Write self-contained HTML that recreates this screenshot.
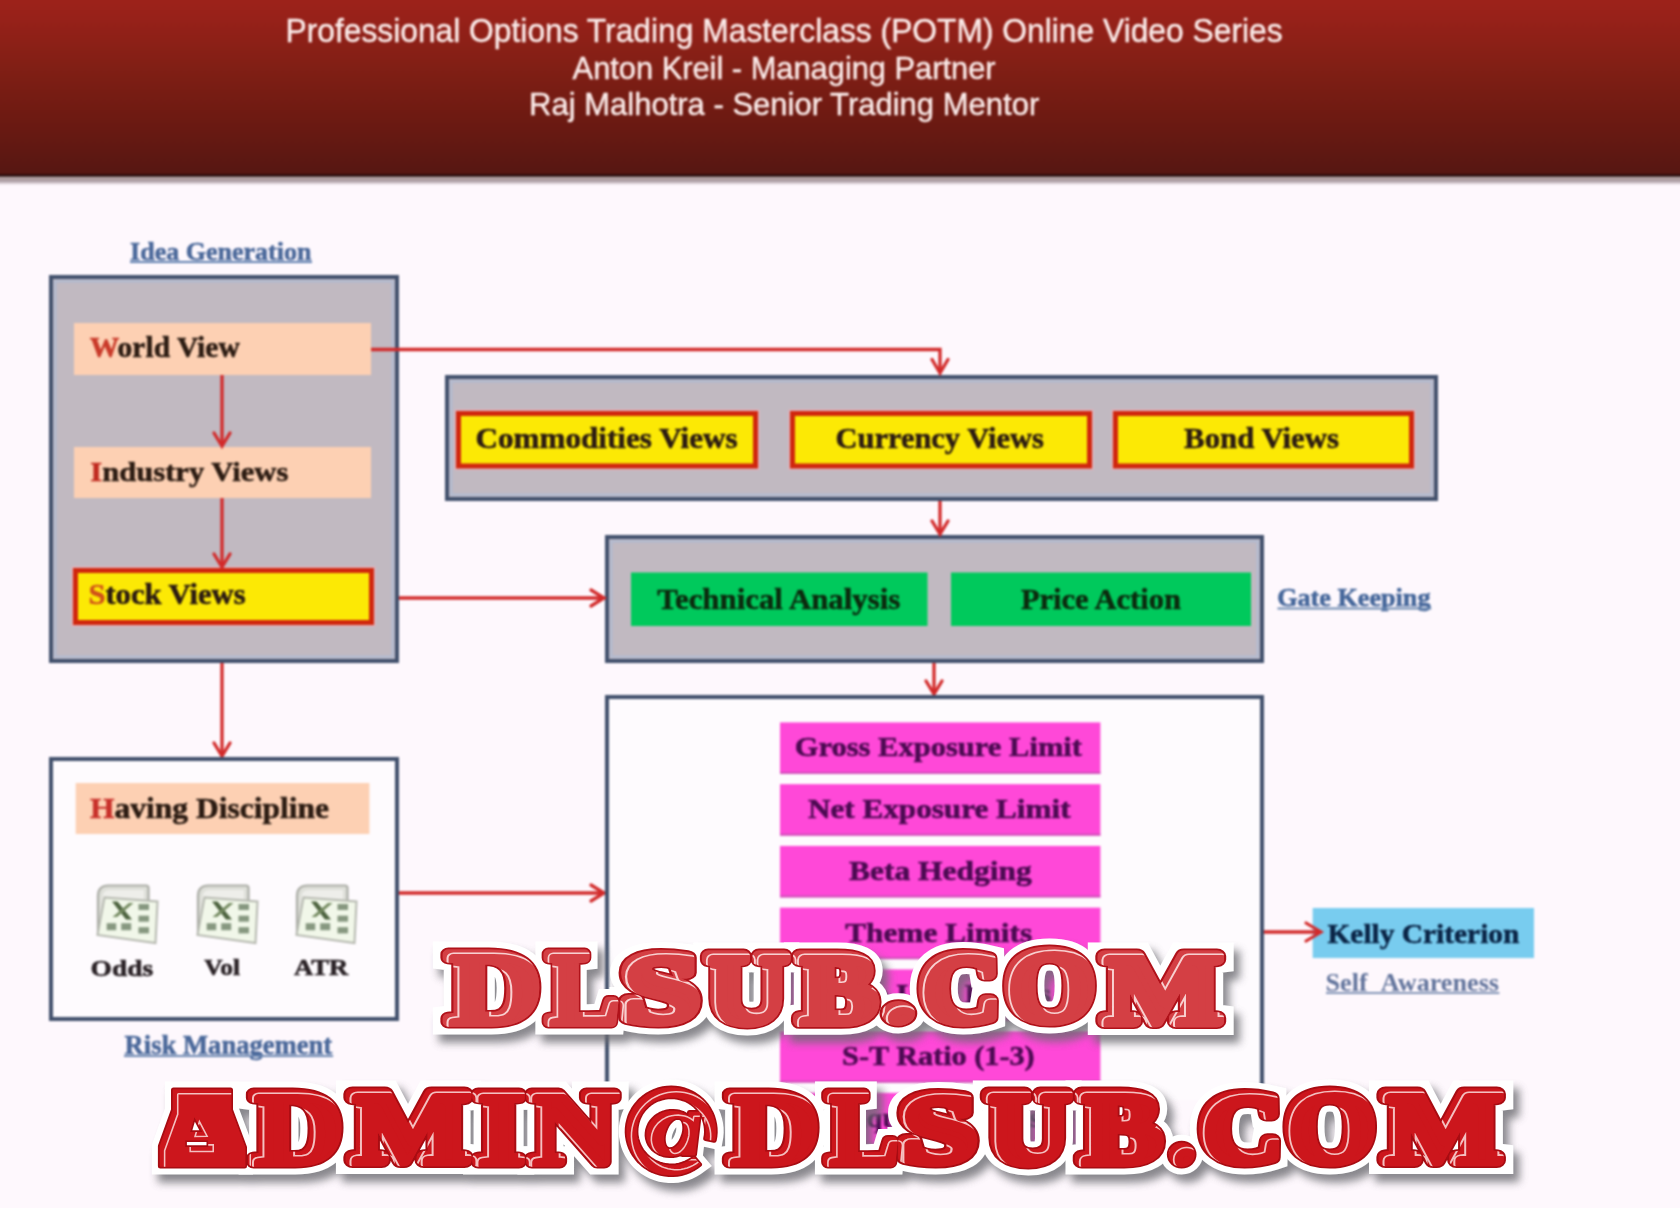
<!DOCTYPE html>
<html><head><meta charset="utf-8"><style>
html,body{margin:0;padding:0;background:#fef8fd;width:1680px;height:1208px;overflow:hidden}
svg{display:block}
</style></head><body>
<svg width="1680" height="1208" viewBox="0 0 1680 1208">
<g style="filter:blur(0.8px)">
<defs>
<linearGradient id="hdr" x1="0" y1="0" x2="0" y2="1">
 <stop offset="0" stop-color="#a3241c"/>
 <stop offset="0.2" stop-color="#972119"/>
 <stop offset="0.45" stop-color="#811f15"/>
 <stop offset="0.7" stop-color="#6e1a12"/>
 <stop offset="1" stop-color="#561712"/>
</linearGradient>
<linearGradient id="hsh" x1="0" y1="0" x2="0" y2="1">
 <stop offset="0" stop-color="#b8a4a4"/>
 <stop offset="0.5" stop-color="#a99aa0"/>
 <stop offset="1" stop-color="#fef8fd"/>
</linearGradient>
<filter id="blur1" x="-5%" y="-20%" width="110%" height="140%"><feGaussianBlur stdDeviation="0.6"/></filter>
<filter id="wsh" x="-5%" y="-30%" width="110%" height="160%"><feGaussianBlur stdDeviation="4"/></filter>
</defs>
<rect x="-20.00" y="-20.00" width="1720.00" height="1248.00" fill="#fef8fd" />
<rect x="-20.00" y="-20.00" width="1720.00" height="195.00" fill="url(#hdr)" />
<rect x="-20.00" y="174.50" width="1720.00" height="2.30" fill="#1a0404" />
<rect x="-20.00" y="176.80" width="1720.00" height="8.20" fill="url(#hsh)" />
<text x="285.46" y="42.00" font-family="Liberation Sans" font-weight="normal" font-size="33.43" textLength="997.13" lengthAdjust="spacingAndGlyphs" fill="#fcecea" stroke="#fcecea" stroke-width="0.45">Professional Options Trading Masterclass (POTM) Online Video Series</text>
<text x="572.60" y="78.70" font-family="Liberation Sans" font-weight="normal" font-size="31.98" textLength="423.02" lengthAdjust="spacingAndGlyphs" fill="#fcecea" stroke="#fcecea" stroke-width="0.45">Anton Kreil - Managing Partner</text>
<text x="529.02" y="115.00" font-family="Liberation Sans" font-weight="normal" font-size="31.98" textLength="510.22" lengthAdjust="spacingAndGlyphs" fill="#fcecea" stroke="#fcecea" stroke-width="0.45">Raj Malhotra - Senior Trading Mentor</text>
<text x="130.09" y="259.70" font-family="Liberation Serif" font-weight="bold" font-size="25.95" textLength="181.34" lengthAdjust="spacingAndGlyphs" fill="#4a689a"  stroke="#4a689a" stroke-width="0.55">Idea Generation</text>
<rect x="130.00" y="261.00" width="182.00" height="2.00" fill="#6080b0" />
<rect x="51.00" y="277.00" width="346.00" height="384.00" fill="#c1b9c1" stroke="#41506c" stroke-width="4" />
<rect x="55.25" y="281.25" width="337.50" height="375.50" fill="none" stroke="#b2bad0" stroke-width="2.5" />
<rect x="74.00" y="323.00" width="297.00" height="52.00" fill="#fdd0b3" />
<text x="89.66" y="357.10" font-family="Liberation Serif" font-weight="bold" font-size="29.16" textLength="150.09" lengthAdjust="spacingAndGlyphs" fill="#2b1b12"  stroke="#2b1b12" stroke-width="0.55"><tspan fill="#c93a2a" stroke="#c93a2a">W</tspan>orld View</text>
<rect x="74.00" y="447.00" width="297.00" height="51.00" fill="#fdd0b3" />
<text x="90.33" y="481.00" font-family="Liberation Serif" font-weight="bold" font-size="28.24" textLength="197.99" lengthAdjust="spacingAndGlyphs" fill="#2b1b12"  stroke="#2b1b12" stroke-width="0.55"><tspan fill="#c02a20" stroke="#c02a20">I</tspan>ndustry Views</text>
<rect x="72.30" y="567.30" width="302.40" height="58.40" fill="none" stroke="#e2b2bc" stroke-width="1.6" />
<rect x="75.50" y="570.50" width="296.00" height="52.00" fill="#fce905" stroke="#d0260e" stroke-width="5" />
<text x="88.42" y="604.10" font-family="Liberation Serif" font-weight="bold" font-size="29.16" textLength="157.12" lengthAdjust="spacingAndGlyphs" fill="#2b1b12"  stroke="#2b1b12" stroke-width="0.55"><tspan fill="#d0501a" stroke="#d0501a">S</tspan>tock Views</text>
<path d="M222 375 V446" stroke="#d22a2a" stroke-width="3.3" fill="none"/>
<path d="M214 433 L222 446 L230 433" stroke="#d22a2a" stroke-width="3.3" fill="none" stroke-linecap="round" stroke-linejoin="miter"/>
<path d="M222 498 V567" stroke="#d22a2a" stroke-width="3.3" fill="none"/>
<path d="M214 554 L222 567 L230 554" stroke="#d22a2a" stroke-width="3.3" fill="none" stroke-linecap="round" stroke-linejoin="miter"/>
<rect x="447.00" y="377.00" width="989.00" height="122.00" fill="#c1b9c1" stroke="#41506c" stroke-width="4" />
<rect x="451.25" y="381.25" width="980.50" height="113.50" fill="none" stroke="#b2bad0" stroke-width="2.5" />
<rect x="455.30" y="410.30" width="303.40" height="58.90" fill="none" stroke="#e2b2bc" stroke-width="1.6" />
<rect x="458.50" y="413.50" width="297.00" height="52.50" fill="#fce905" stroke="#d0260e" stroke-width="5" />
<text x="475.44" y="448.00" font-family="Liberation Serif" font-weight="bold" font-size="29.62" textLength="262.17" lengthAdjust="spacingAndGlyphs" fill="#2b1b12"  stroke="#2b1b12" stroke-width="0.55">Commodities Views</text>
<rect x="789.30" y="410.30" width="303.40" height="58.90" fill="none" stroke="#e2b2bc" stroke-width="1.6" />
<rect x="792.50" y="413.50" width="297.00" height="52.50" fill="#fce905" stroke="#d0260e" stroke-width="5" />
<text x="835.48" y="448.00" font-family="Liberation Serif" font-weight="bold" font-size="29.62" textLength="208.39" lengthAdjust="spacingAndGlyphs" fill="#2b1b12"  stroke="#2b1b12" stroke-width="0.55">Currency Views</text>
<rect x="1112.30" y="410.30" width="302.40" height="58.90" fill="none" stroke="#e2b2bc" stroke-width="1.6" />
<rect x="1115.50" y="413.50" width="296.00" height="52.50" fill="#fce905" stroke="#d0260e" stroke-width="5" />
<text x="1184.14" y="448.00" font-family="Liberation Serif" font-weight="bold" font-size="29.62" textLength="154.81" lengthAdjust="spacingAndGlyphs" fill="#2b1b12"  stroke="#2b1b12" stroke-width="0.55">Bond Views</text>
<rect x="607.00" y="537.00" width="655.00" height="124.00" fill="#c1b9c1" stroke="#41506c" stroke-width="4" />
<rect x="611.25" y="541.25" width="646.50" height="115.50" fill="none" stroke="#b2bad0" stroke-width="2.5" />
<rect x="631.00" y="572.50" width="296.50" height="53.50" fill="#00c95c" />
<rect x="951.00" y="572.50" width="300.00" height="53.50" fill="#00c95c" />
<text x="657.24" y="608.90" font-family="Liberation Serif" font-weight="bold" font-size="29.62" textLength="243.03" lengthAdjust="spacingAndGlyphs" fill="#0b2a0e"  stroke="#0b2a0e" stroke-width="0.55">Technical Analysis</text>
<text x="1020.94" y="609.00" font-family="Liberation Serif" font-weight="bold" font-size="29.01" textLength="160.01" lengthAdjust="spacingAndGlyphs" fill="#0b2a0e"  stroke="#0b2a0e" stroke-width="0.55">Price Action</text>
<text x="1277.19" y="605.70" font-family="Liberation Serif" font-weight="bold" font-size="24.58" textLength="153.28" lengthAdjust="spacingAndGlyphs" fill="#44669a"  stroke="#44669a" stroke-width="0.55">Gate Keeping</text>
<rect x="1277.50" y="607.50" width="153.70" height="2.00" fill="#6a88b0" />
<path d="M371 349.5 H940 V373" stroke="#d22a2a" stroke-width="3.3" fill="none"/>
<path d="M932 359.5 L940 373 L948 359.5" stroke="#d22a2a" stroke-width="3.3" fill="none" stroke-linecap="round"/>
<path d="M399 598 H604" stroke="#d22a2a" stroke-width="3.3" fill="none"/>
<path d="M591 590 L604 598 L591 606" stroke="#d22a2a" stroke-width="3.3" fill="none" stroke-linecap="round"/>
<path d="M940 501 V534" stroke="#d22a2a" stroke-width="3.3" fill="none"/>
<path d="M932 521 L940 534 L948 521" stroke="#d22a2a" stroke-width="3.3" fill="none" stroke-linecap="round" stroke-linejoin="miter"/>
<path d="M934 663 V694" stroke="#d22a2a" stroke-width="3.3" fill="none"/>
<path d="M926 681 L934 694 L942 681" stroke="#d22a2a" stroke-width="3.3" fill="none" stroke-linecap="round" stroke-linejoin="miter"/>
<path d="M222 663 V756" stroke="#d22a2a" stroke-width="3.3" fill="none"/>
<path d="M214 743 L222 756 L230 743" stroke="#d22a2a" stroke-width="3.3" fill="none" stroke-linecap="round" stroke-linejoin="miter"/>
<path d="M399 893 H604" stroke="#d22a2a" stroke-width="3.3" fill="none"/>
<path d="M591 885 L604 893 L591 901" stroke="#d22a2a" stroke-width="3.3" fill="none" stroke-linecap="round"/>
<rect x="51.00" y="759.00" width="346.00" height="260.00" fill="#fefbfe" stroke="#41506c" stroke-width="4" />
<rect x="75.70" y="783.00" width="293.70" height="51.00" fill="#fdd0b3" />
<text x="90.03" y="818.10" font-family="Liberation Serif" font-weight="bold" font-size="28.40" textLength="238.94" lengthAdjust="spacingAndGlyphs" fill="#2b1b12"  stroke="#2b1b12" stroke-width="0.55"><tspan fill="#c8302a" stroke="#c8302a">H</tspan>aving Discipline</text>
<g transform="translate(96,884)"><path d="M2 50 L2 12 Q2 1.5 12.5 1.5 L50 1.5 Q52.5 1.5 52.5 4 L52.5 46 Z" fill="#dedfd9" stroke="#abada6" stroke-width="2.2"/><path d="M6.5 48 L6.5 13 Q6.5 6 13.5 6 L48 6 L48 44 Z" fill="#eeeeea"/><path d="M8.5 13.5 L61.5 17.5 L59.5 59 L1.5 51 Z" fill="#f1f7e9" stroke="#b6b9b0" stroke-width="2"/><path d="M16 17.5 L21.5 17.5 L36 35.5 L30 35.5 Z" fill="#4d633f"/><path d="M33 19 L37.5 19 L21 33 L16.5 33 Z" fill="#73895f"/><rect x="42.5" y="20" width="10.5" height="6" fill="#879880"/><rect x="42.5" y="31.7" width="10.5" height="6" fill="#879880"/><rect x="42.5" y="43.2" width="10.5" height="6.2" fill="#879880"/><rect x="10.7" y="39.2" width="9.5" height="7" fill="#879880"/><rect x="25.2" y="39.2" width="10" height="7" fill="#879880"/></g>
<g transform="translate(196,884)"><path d="M2 50 L2 12 Q2 1.5 12.5 1.5 L50 1.5 Q52.5 1.5 52.5 4 L52.5 46 Z" fill="#dedfd9" stroke="#abada6" stroke-width="2.2"/><path d="M6.5 48 L6.5 13 Q6.5 6 13.5 6 L48 6 L48 44 Z" fill="#eeeeea"/><path d="M8.5 13.5 L61.5 17.5 L59.5 59 L1.5 51 Z" fill="#f1f7e9" stroke="#b6b9b0" stroke-width="2"/><path d="M16 17.5 L21.5 17.5 L36 35.5 L30 35.5 Z" fill="#4d633f"/><path d="M33 19 L37.5 19 L21 33 L16.5 33 Z" fill="#73895f"/><rect x="42.5" y="20" width="10.5" height="6" fill="#879880"/><rect x="42.5" y="31.7" width="10.5" height="6" fill="#879880"/><rect x="42.5" y="43.2" width="10.5" height="6.2" fill="#879880"/><rect x="10.7" y="39.2" width="9.5" height="7" fill="#879880"/><rect x="25.2" y="39.2" width="10" height="7" fill="#879880"/></g>
<g transform="translate(295,884)"><path d="M2 50 L2 12 Q2 1.5 12.5 1.5 L50 1.5 Q52.5 1.5 52.5 4 L52.5 46 Z" fill="#dedfd9" stroke="#abada6" stroke-width="2.2"/><path d="M6.5 48 L6.5 13 Q6.5 6 13.5 6 L48 6 L48 44 Z" fill="#eeeeea"/><path d="M8.5 13.5 L61.5 17.5 L59.5 59 L1.5 51 Z" fill="#f1f7e9" stroke="#b6b9b0" stroke-width="2"/><path d="M16 17.5 L21.5 17.5 L36 35.5 L30 35.5 Z" fill="#4d633f"/><path d="M33 19 L37.5 19 L21 33 L16.5 33 Z" fill="#73895f"/><rect x="42.5" y="20" width="10.5" height="6" fill="#879880"/><rect x="42.5" y="31.7" width="10.5" height="6" fill="#879880"/><rect x="42.5" y="43.2" width="10.5" height="6.2" fill="#879880"/><rect x="10.7" y="39.2" width="9.5" height="7" fill="#879880"/><rect x="25.2" y="39.2" width="10" height="7" fill="#879880"/></g>
<text x="90.53" y="975.80" font-family="Liberation Serif" font-weight="bold" font-size="24.12" textLength="62.64" lengthAdjust="spacingAndGlyphs" fill="#2a2226"  stroke="#2a2226" stroke-width="0.55">Odds</text>
<text x="204.15" y="975.40" font-family="Liberation Serif" font-weight="bold" font-size="22.75" textLength="35.82" lengthAdjust="spacingAndGlyphs" fill="#2a2226"  stroke="#2a2226" stroke-width="0.55">Vol</text>
<text x="294.03" y="975.40" font-family="Liberation Serif" font-weight="bold" font-size="22.75" textLength="54.26" lengthAdjust="spacingAndGlyphs" fill="#2a2226"  stroke="#2a2226" stroke-width="0.55">ATR</text>
<text x="124.60" y="1053.60" font-family="Liberation Serif" font-weight="bold" font-size="27.33" textLength="207.64" lengthAdjust="spacingAndGlyphs" fill="#4a689a"  stroke="#4a689a" stroke-width="0.55">Risk Management</text>
<rect x="124.00" y="1055.00" width="209.10" height="2.00" fill="#6a86b0" />
<rect x="605.00" y="695.00" width="659.00" height="405.00" fill="#fefbfe" />
<path d="M607 1100 V697 H1262 V1100" fill="none" stroke="#41506c" stroke-width="4"/>
<rect x="780.00" y="722.40" width="320.40" height="51.50" fill="#ff48d8" />
<rect x="780.00" y="771.90" width="320.40" height="2.00" fill="#d050b8" />
<text x="794.67" y="756.40" font-family="Liberation Serif" font-weight="bold" font-size="27.48" textLength="287.34" lengthAdjust="spacingAndGlyphs" fill="#4c0a52"  stroke="#4c0a52" stroke-width="0.55">Gross Exposure Limit</text>
<rect x="780.00" y="784.15" width="320.40" height="51.50" fill="#ff48d8" />
<rect x="780.00" y="833.65" width="320.40" height="2.00" fill="#d050b8" />
<text x="807.98" y="818.15" font-family="Liberation Serif" font-weight="bold" font-size="27.48" textLength="262.55" lengthAdjust="spacingAndGlyphs" fill="#4c0a52"  stroke="#4c0a52" stroke-width="0.55">Net Exposure Limit</text>
<rect x="780.00" y="845.90" width="320.40" height="51.50" fill="#ff48d8" />
<rect x="780.00" y="895.40" width="320.40" height="2.00" fill="#d050b8" />
<text x="849.03" y="879.90" font-family="Liberation Serif" font-weight="bold" font-size="27.48" textLength="182.71" lengthAdjust="spacingAndGlyphs" fill="#4c0a52"  stroke="#4c0a52" stroke-width="0.55">Beta Hedging</text>
<rect x="780.00" y="907.65" width="320.40" height="51.50" fill="#ff48d8" />
<rect x="780.00" y="957.15" width="320.40" height="2.00" fill="#d050b8" />
<text x="845.23" y="941.65" font-family="Liberation Serif" font-weight="bold" font-size="27.48" textLength="186.85" lengthAdjust="spacingAndGlyphs" fill="#4c0a52"  stroke="#4c0a52" stroke-width="0.55">Theme Limits</text>
<rect x="780.00" y="969.40" width="320.40" height="51.50" fill="#ff48d8" />
<rect x="780.00" y="1018.90" width="320.40" height="2.00" fill="#d050b8" />
<text x="828.29" y="1003.40" font-family="Liberation Serif" font-weight="bold" font-size="27.48" textLength="222.44" lengthAdjust="spacingAndGlyphs" fill="#4c0a52"  stroke="#4c0a52" stroke-width="0.55">Stop Loss Limits</text>
<rect x="780.00" y="1031.15" width="320.40" height="51.50" fill="#ff48d8" />
<rect x="780.00" y="1080.65" width="320.40" height="2.00" fill="#d050b8" />
<text x="842.14" y="1065.15" font-family="Liberation Serif" font-weight="bold" font-size="27.48" textLength="192.53" lengthAdjust="spacingAndGlyphs" fill="#4c0a52"  stroke="#4c0a52" stroke-width="0.55">S-T Ratio (1-3)</text>
<rect x="780.00" y="1092.90" width="320.40" height="51.50" fill="#ff48d8" />
<rect x="780.00" y="1142.40" width="320.40" height="2.00" fill="#d050b8" />
<text x="839.57" y="1126.90" font-family="Liberation Serif" font-weight="bold" font-size="27.48" textLength="201.14" lengthAdjust="spacingAndGlyphs" fill="#4c0a52"  stroke="#4c0a52" stroke-width="0.55">Liquidity Limits</text>
<rect x="1312.70" y="908.00" width="221.30" height="50.00" fill="#78ccef" />
<path d="M1264 932 H1320" stroke="#d22a2a" stroke-width="3.3" fill="none"/>
<path d="M1306 923 L1321 932 L1306 941" stroke="#d22a2a" stroke-width="3.2" fill="none" stroke-linecap="round"/>
<text x="1327.46" y="942.70" font-family="Liberation Serif" font-weight="bold" font-size="27.33" textLength="191.91" lengthAdjust="spacingAndGlyphs" fill="#0a2446"  stroke="#0a2446" stroke-width="0.55">Kelly Criterion</text>
<text x="1325.56" y="990.90" font-family="Liberation Serif" font-weight="bold" font-size="24.58" textLength="173.46" lengthAdjust="spacingAndGlyphs" fill="#62749c" stroke="none">Self  Awareness</text>
<rect x="1326.00" y="992.00" width="173.40" height="2.00" fill="#8294b6" />
</g>
<g style="filter:blur(0.35px)">
<mask id="m1" maskUnits="userSpaceOnUse" x="0" y="0" width="1680" height="1208"><g font-family="Liberation Serif" font-weight="bold" stroke-linejoin="round" fill="#fff" stroke="#fff" stroke-width="9.5"><text x="446.26" y="1021.80" font-size="103.51" textLength="93.34" lengthAdjust="spacingAndGlyphs">D</text><text x="546.59" y="1021.80" font-size="103.51" textLength="71.41" lengthAdjust="spacingAndGlyphs">L</text><text x="882.67" y="1020.41" font-size="92.50" textLength="31.25" lengthAdjust="spacingAndGlyphs">.</text></g><g font-family="Liberation Serif" font-weight="bold" stroke-linejoin="round" fill="#fff" stroke="#fff" stroke-width="11.5"><text x="621.30" y="1019.82" font-size="98.21" textLength="76.90" lengthAdjust="spacingAndGlyphs">S</text><text x="705.58" y="1020.80" font-size="100.46" textLength="81.42" lengthAdjust="spacingAndGlyphs">U</text><text x="797.74" y="1020.80" font-size="100.46" textLength="78.34" lengthAdjust="spacingAndGlyphs">B</text><text x="919.50" y="1019.82" font-size="98.21" textLength="79.38" lengthAdjust="spacingAndGlyphs">C</text><text x="1004.98" y="1019.78" font-size="101.64" textLength="88.99" lengthAdjust="spacingAndGlyphs">O</text><text x="1102.62" y="1020.80" font-size="100.46" textLength="117.98" lengthAdjust="spacingAndGlyphs">M</text></g></mask>
<g filter="url(#wsh)" opacity="0.8"><g transform="translate(6,8)"><g font-family="Liberation Serif" font-weight="bold" stroke-linejoin="miter" stroke-miterlimit="2.2" fill="#6a6a70" stroke="#6a6a70" stroke-width="25"><text x="446.26" y="1021.80" font-size="103.51" textLength="93.34" lengthAdjust="spacingAndGlyphs">D</text><text x="546.59" y="1021.80" font-size="103.51" textLength="71.41" lengthAdjust="spacingAndGlyphs">L</text><text x="882.67" y="1020.41" font-size="92.50" textLength="31.25" lengthAdjust="spacingAndGlyphs">.</text></g><g font-family="Liberation Serif" font-weight="bold" stroke-linejoin="miter" stroke-miterlimit="2.2" fill="#6a6a70" stroke="#6a6a70" stroke-width="27"><text x="621.30" y="1019.82" font-size="98.21" textLength="76.90" lengthAdjust="spacingAndGlyphs">S</text><text x="705.58" y="1020.80" font-size="100.46" textLength="81.42" lengthAdjust="spacingAndGlyphs">U</text><text x="797.74" y="1020.80" font-size="100.46" textLength="78.34" lengthAdjust="spacingAndGlyphs">B</text><text x="919.50" y="1019.82" font-size="98.21" textLength="79.38" lengthAdjust="spacingAndGlyphs">C</text><text x="1004.98" y="1019.78" font-size="101.64" textLength="88.99" lengthAdjust="spacingAndGlyphs">O</text><text x="1102.62" y="1020.80" font-size="100.46" textLength="117.98" lengthAdjust="spacingAndGlyphs">M</text></g></g></g>
<g font-family="Liberation Serif" font-weight="bold" stroke-linejoin="miter" stroke-miterlimit="2.2" fill="#fff" stroke="#fff" stroke-width="25"><text x="446.26" y="1021.80" font-size="103.51" textLength="93.34" lengthAdjust="spacingAndGlyphs">D</text><text x="546.59" y="1021.80" font-size="103.51" textLength="71.41" lengthAdjust="spacingAndGlyphs">L</text><text x="882.67" y="1020.41" font-size="92.50" textLength="31.25" lengthAdjust="spacingAndGlyphs">.</text></g><g font-family="Liberation Serif" font-weight="bold" stroke-linejoin="miter" stroke-miterlimit="2.2" fill="#fff" stroke="#fff" stroke-width="27"><text x="621.30" y="1019.82" font-size="98.21" textLength="76.90" lengthAdjust="spacingAndGlyphs">S</text><text x="705.58" y="1020.80" font-size="100.46" textLength="81.42" lengthAdjust="spacingAndGlyphs">U</text><text x="797.74" y="1020.80" font-size="100.46" textLength="78.34" lengthAdjust="spacingAndGlyphs">B</text><text x="919.50" y="1019.82" font-size="98.21" textLength="79.38" lengthAdjust="spacingAndGlyphs">C</text><text x="1004.98" y="1019.78" font-size="101.64" textLength="88.99" lengthAdjust="spacingAndGlyphs">O</text><text x="1102.62" y="1020.80" font-size="100.46" textLength="117.98" lengthAdjust="spacingAndGlyphs">M</text></g>
<g font-family="Liberation Serif" font-weight="bold" stroke-linejoin="round" fill="#b0121a" stroke="#b0121a" stroke-width="13"><text x="446.26" y="1021.80" font-size="103.51" textLength="93.34" lengthAdjust="spacingAndGlyphs">D</text><text x="546.59" y="1021.80" font-size="103.51" textLength="71.41" lengthAdjust="spacingAndGlyphs">L</text><text x="882.67" y="1020.41" font-size="92.50" textLength="31.25" lengthAdjust="spacingAndGlyphs">.</text></g><g font-family="Liberation Serif" font-weight="bold" stroke-linejoin="round" fill="#b0121a" stroke="#b0121a" stroke-width="15"><text x="621.30" y="1019.82" font-size="98.21" textLength="76.90" lengthAdjust="spacingAndGlyphs">S</text><text x="705.58" y="1020.80" font-size="100.46" textLength="81.42" lengthAdjust="spacingAndGlyphs">U</text><text x="797.74" y="1020.80" font-size="100.46" textLength="78.34" lengthAdjust="spacingAndGlyphs">B</text><text x="919.50" y="1019.82" font-size="98.21" textLength="79.38" lengthAdjust="spacingAndGlyphs">C</text><text x="1004.98" y="1019.78" font-size="101.64" textLength="88.99" lengthAdjust="spacingAndGlyphs">O</text><text x="1102.62" y="1020.80" font-size="100.46" textLength="117.98" lengthAdjust="spacingAndGlyphs">M</text></g>
<g font-family="Liberation Serif" font-weight="bold" stroke-linejoin="round" fill="#d43f44" stroke="#d43f44" stroke-width="9.5"><text x="446.26" y="1021.80" font-size="103.51" textLength="93.34" lengthAdjust="spacingAndGlyphs">D</text><text x="546.59" y="1021.80" font-size="103.51" textLength="71.41" lengthAdjust="spacingAndGlyphs">L</text><text x="882.67" y="1020.41" font-size="92.50" textLength="31.25" lengthAdjust="spacingAndGlyphs">.</text></g><g font-family="Liberation Serif" font-weight="bold" stroke-linejoin="round" fill="#d43f44" stroke="#d43f44" stroke-width="11.5"><text x="621.30" y="1019.82" font-size="98.21" textLength="76.90" lengthAdjust="spacingAndGlyphs">S</text><text x="705.58" y="1020.80" font-size="100.46" textLength="81.42" lengthAdjust="spacingAndGlyphs">U</text><text x="797.74" y="1020.80" font-size="100.46" textLength="78.34" lengthAdjust="spacingAndGlyphs">B</text><text x="919.50" y="1019.82" font-size="98.21" textLength="79.38" lengthAdjust="spacingAndGlyphs">C</text><text x="1004.98" y="1019.78" font-size="101.64" textLength="88.99" lengthAdjust="spacingAndGlyphs">O</text><text x="1102.62" y="1020.80" font-size="100.46" textLength="117.98" lengthAdjust="spacingAndGlyphs">M</text></g>
<g mask="url(#m1)"><g transform="translate(5,4.5)"><g font-family="Liberation Serif" font-weight="bold" stroke-linejoin="round" fill="#f8d0d0" stroke="#f8d0d0" stroke-width="11.1"><text x="446.26" y="1021.80" font-size="103.51" textLength="93.34" lengthAdjust="spacingAndGlyphs">D</text><text x="546.59" y="1021.80" font-size="103.51" textLength="71.41" lengthAdjust="spacingAndGlyphs">L</text><text x="882.67" y="1020.41" font-size="92.50" textLength="31.25" lengthAdjust="spacingAndGlyphs">.</text></g><g font-family="Liberation Serif" font-weight="bold" stroke-linejoin="round" fill="#d43f44" stroke="#d43f44" stroke-width="7.9"><text x="446.26" y="1021.80" font-size="103.51" textLength="93.34" lengthAdjust="spacingAndGlyphs">D</text><text x="546.59" y="1021.80" font-size="103.51" textLength="71.41" lengthAdjust="spacingAndGlyphs">L</text><text x="882.67" y="1020.41" font-size="92.50" textLength="31.25" lengthAdjust="spacingAndGlyphs">.</text></g><g font-family="Liberation Serif" font-weight="bold" stroke-linejoin="round" fill="#f8d0d0" stroke="#f8d0d0" stroke-width="13.1"><text x="621.30" y="1019.82" font-size="98.21" textLength="76.90" lengthAdjust="spacingAndGlyphs">S</text><text x="705.58" y="1020.80" font-size="100.46" textLength="81.42" lengthAdjust="spacingAndGlyphs">U</text><text x="797.74" y="1020.80" font-size="100.46" textLength="78.34" lengthAdjust="spacingAndGlyphs">B</text><text x="919.50" y="1019.82" font-size="98.21" textLength="79.38" lengthAdjust="spacingAndGlyphs">C</text><text x="1004.98" y="1019.78" font-size="101.64" textLength="88.99" lengthAdjust="spacingAndGlyphs">O</text><text x="1102.62" y="1020.80" font-size="100.46" textLength="117.98" lengthAdjust="spacingAndGlyphs">M</text></g><g font-family="Liberation Serif" font-weight="bold" stroke-linejoin="round" fill="#d43f44" stroke="#d43f44" stroke-width="9.9"><text x="621.30" y="1019.82" font-size="98.21" textLength="76.90" lengthAdjust="spacingAndGlyphs">S</text><text x="705.58" y="1020.80" font-size="100.46" textLength="81.42" lengthAdjust="spacingAndGlyphs">U</text><text x="797.74" y="1020.80" font-size="100.46" textLength="78.34" lengthAdjust="spacingAndGlyphs">B</text><text x="919.50" y="1019.82" font-size="98.21" textLength="79.38" lengthAdjust="spacingAndGlyphs">C</text><text x="1004.98" y="1019.78" font-size="101.64" textLength="88.99" lengthAdjust="spacingAndGlyphs">O</text><text x="1102.62" y="1020.80" font-size="100.46" textLength="117.98" lengthAdjust="spacingAndGlyphs">M</text></g></g></g>
<mask id="m2" maskUnits="userSpaceOnUse" x="0" y="0" width="1680" height="1208"><g font-family="Liberation Serif" font-weight="bold" stroke-linejoin="round" fill="#fff" stroke="#fff" stroke-width="1.5"><path d="M173.5 1090.0 L230.5 1090.0 L230.5 1109.9 L244.5 1147.4 L244.5 1165.9 L160.4 1165.9 L160.4 1146.2 L173.5 1109.9Z M189.0 1132.8 L203.4 1132.5 L194.2 1115.0Z M184.4 1147.7 L209.0 1147.7 L209.0 1139.6 L184.4 1139.6Z" fill-rule="evenodd"/><path d="M714.2 1140.3 L714.9 1136.3 L715.2 1132.3 L715.1 1128.2 L714.6 1124.2 L713.7 1120.2 L712.5 1116.3 L710.9 1112.6 L708.9 1109.0 L706.7 1105.7 L704.1 1102.5 L701.2 1099.6 L698.0 1097.0 L694.7 1094.7 L691.1 1092.7 L687.3 1091.0 L683.4 1089.7 L679.4 1088.8 L675.3 1088.2 L671.2 1088.0 L667.1 1088.2 L663.0 1088.8 L659.0 1089.7 L655.1 1091.0 L651.4 1092.7 L647.8 1094.6 L644.4 1097.0 L641.2 1099.6 L638.4 1102.5 L635.8 1105.6 L633.5 1109.0 L631.5 1112.6 L629.9 1116.3 L628.7 1120.2 L627.8 1124.1 L627.3 1128.2 L627.2 1132.2 L627.5 1136.3 L628.2 1140.3 L629.2 1144.2 L630.6 1148.0 L632.4 1151.7 L634.5 1155.1 L636.9 1158.4 L639.6 1161.5 L642.6 1164.2 L645.9 1166.7 L649.4 1168.9 L653.0 1170.7 L656.9 1172.2 L660.8 1173.4 L664.8 1174.1 L668.9 1174.5 L673.1 1174.6 L677.2 1174.2 L681.2 1173.5 L685.2 1172.4 L689.0 1170.9 L692.7 1169.1 L696.2 1166.9 L699.5 1164.5 L693.9 1157.9 L691.3 1159.9 L688.5 1161.6 L685.5 1163.0 L682.4 1164.2 L679.2 1165.1 L676.0 1165.7 L672.7 1166.0 L669.4 1166.0 L666.1 1165.6 L662.9 1165.0 L659.7 1164.1 L656.6 1162.9 L653.7 1161.4 L650.9 1159.7 L648.3 1157.7 L645.9 1155.5 L643.7 1153.0 L641.7 1150.4 L640.0 1147.6 L638.6 1144.7 L637.5 1141.6 L636.7 1138.5 L636.1 1135.3 L635.9 1132.0 L636.0 1128.8 L636.4 1125.6 L637.1 1122.4 L638.1 1119.3 L639.4 1116.3 L640.9 1113.4 L642.8 1110.7 L644.9 1108.2 L647.2 1105.9 L649.7 1103.8 L652.4 1101.9 L655.3 1100.3 L658.3 1099.0 L661.4 1098.0 L664.6 1097.2 L667.9 1096.8 L671.2 1096.6 L674.5 1096.8 L677.8 1097.2 L681.0 1098.0 L684.1 1099.0 L687.2 1100.3 L690.0 1101.9 L692.7 1103.8 L695.3 1105.9 L697.6 1108.2 L699.6 1110.8 L701.5 1113.5 L703.0 1116.3 L704.3 1119.3 L705.3 1122.4 L706.0 1125.6 L706.4 1128.8 L706.5 1132.1 L706.3 1135.3 L705.7 1138.5Z"/><path d="M695.5 1128.4 L695.9 1131.3 L695.8 1134.1 L695.4 1137.0 L694.5 1139.8 L693.3 1142.6 L691.7 1145.1 L689.7 1147.5 L687.4 1149.6 L684.9 1151.4 L682.1 1153.0 L679.2 1154.2 L676.1 1155.0 L672.9 1155.5 L669.7 1155.6 L666.6 1155.3 L663.5 1154.7 L660.5 1153.7 L657.8 1152.3 L655.3 1150.6 L653.0 1148.7 L651.1 1146.4 L649.5 1144.0 L648.3 1141.4 L647.5 1138.6 L647.1 1135.7 L647.2 1132.9 L647.6 1130.0 L648.5 1127.2 L649.7 1124.4 L651.3 1121.9 L653.3 1119.5 L655.6 1117.4 L658.1 1115.6 L660.9 1114.0 L663.8 1112.8 L666.9 1112.0 L670.1 1111.5 L673.3 1111.4 L676.4 1111.7 L679.5 1112.3 L682.5 1113.3 L685.2 1114.7 L687.7 1116.4 L690.0 1118.3 L691.9 1120.6 L693.5 1123.0 L694.7 1125.6 L695.5 1128.4Z M683.1 1136.8 L684.0 1134.0 L684.6 1131.2 L684.8 1128.4 L684.7 1125.8 L684.3 1123.4 L683.6 1121.3 L682.6 1119.6 L681.3 1118.3 L679.8 1117.5 L678.1 1117.2 L676.3 1117.4 L674.5 1118.0 L672.6 1119.1 L670.8 1120.7 L669.0 1122.6 L667.4 1124.9 L666.0 1127.5 L664.9 1130.2 L664.0 1133.0 L663.4 1135.8 L663.2 1138.6 L663.3 1141.2 L663.7 1143.6 L664.4 1145.7 L665.4 1147.4 L666.7 1148.7 L668.2 1149.5 L669.9 1149.8 L671.7 1149.6 L673.5 1149.0 L675.4 1147.9 L677.2 1146.3 L679.0 1144.4 L680.6 1142.1 L682.0 1139.5 L683.1 1136.8Z" fill-rule="evenodd"/><path d="M689.5 1112.5 L699.5 1112.5 L694.5 1154.5 L682.5 1154.5 Z"/></g><g font-family="Liberation Serif" font-weight="bold" stroke-linejoin="round" fill="#fff" stroke="#fff" stroke-width="9.5"><text x="251.62" y="1161.90" font-size="103.66" textLength="90.27" lengthAdjust="spacingAndGlyphs">D</text><text x="474.07" y="1161.90" font-size="103.66" textLength="49.25" lengthAdjust="spacingAndGlyphs">I</text><text x="529.61" y="1161.90" font-size="103.66" textLength="86.35" lengthAdjust="spacingAndGlyphs">N</text><text x="727.62" y="1161.90" font-size="103.66" textLength="90.38" lengthAdjust="spacingAndGlyphs">D</text><text x="825.90" y="1161.90" font-size="103.66" textLength="71.08" lengthAdjust="spacingAndGlyphs">L</text><text x="1169.41" y="1161.13" font-size="91.25" textLength="24.38" lengthAdjust="spacingAndGlyphs">.</text></g><g font-family="Liberation Serif" font-weight="bold" stroke-linejoin="round" fill="#fff" stroke="#fff" stroke-width="11.5"><text x="350.63" y="1160.90" font-size="100.61" textLength="117.45" lengthAdjust="spacingAndGlyphs">M</text><text x="898.97" y="1159.92" font-size="98.36" textLength="76.17" lengthAdjust="spacingAndGlyphs">S</text><text x="985.61" y="1160.90" font-size="100.61" textLength="83.45" lengthAdjust="spacingAndGlyphs">U</text><text x="1079.69" y="1160.90" font-size="100.61" textLength="80.68" lengthAdjust="spacingAndGlyphs">B</text><text x="1199.87" y="1159.92" font-size="98.36" textLength="81.32" lengthAdjust="spacingAndGlyphs">C</text><text x="1285.38" y="1160.98" font-size="102.24" textLength="88.99" lengthAdjust="spacingAndGlyphs">O</text><text x="1383.64" y="1160.90" font-size="100.61" textLength="116.72" lengthAdjust="spacingAndGlyphs">M</text></g></mask>
<g filter="url(#wsh)" opacity="0.8"><g transform="translate(6,8)"><g font-family="Liberation Serif" font-weight="bold" stroke-linejoin="miter" stroke-miterlimit="2.2" fill="#6a6a70" stroke="#6a6a70" stroke-width="17"><path d="M173.5 1090.0 L230.5 1090.0 L230.5 1109.9 L244.5 1147.4 L244.5 1165.9 L160.4 1165.9 L160.4 1146.2 L173.5 1109.9Z M189.0 1132.8 L203.4 1132.5 L194.2 1115.0Z M184.4 1147.7 L209.0 1147.7 L209.0 1139.6 L184.4 1139.6Z" fill-rule="evenodd"/><path d="M714.2 1140.3 L714.9 1136.3 L715.2 1132.3 L715.1 1128.2 L714.6 1124.2 L713.7 1120.2 L712.5 1116.3 L710.9 1112.6 L708.9 1109.0 L706.7 1105.7 L704.1 1102.5 L701.2 1099.6 L698.0 1097.0 L694.7 1094.7 L691.1 1092.7 L687.3 1091.0 L683.4 1089.7 L679.4 1088.8 L675.3 1088.2 L671.2 1088.0 L667.1 1088.2 L663.0 1088.8 L659.0 1089.7 L655.1 1091.0 L651.4 1092.7 L647.8 1094.6 L644.4 1097.0 L641.2 1099.6 L638.4 1102.5 L635.8 1105.6 L633.5 1109.0 L631.5 1112.6 L629.9 1116.3 L628.7 1120.2 L627.8 1124.1 L627.3 1128.2 L627.2 1132.2 L627.5 1136.3 L628.2 1140.3 L629.2 1144.2 L630.6 1148.0 L632.4 1151.7 L634.5 1155.1 L636.9 1158.4 L639.6 1161.5 L642.6 1164.2 L645.9 1166.7 L649.4 1168.9 L653.0 1170.7 L656.9 1172.2 L660.8 1173.4 L664.8 1174.1 L668.9 1174.5 L673.1 1174.6 L677.2 1174.2 L681.2 1173.5 L685.2 1172.4 L689.0 1170.9 L692.7 1169.1 L696.2 1166.9 L699.5 1164.5 L693.9 1157.9 L691.3 1159.9 L688.5 1161.6 L685.5 1163.0 L682.4 1164.2 L679.2 1165.1 L676.0 1165.7 L672.7 1166.0 L669.4 1166.0 L666.1 1165.6 L662.9 1165.0 L659.7 1164.1 L656.6 1162.9 L653.7 1161.4 L650.9 1159.7 L648.3 1157.7 L645.9 1155.5 L643.7 1153.0 L641.7 1150.4 L640.0 1147.6 L638.6 1144.7 L637.5 1141.6 L636.7 1138.5 L636.1 1135.3 L635.9 1132.0 L636.0 1128.8 L636.4 1125.6 L637.1 1122.4 L638.1 1119.3 L639.4 1116.3 L640.9 1113.4 L642.8 1110.7 L644.9 1108.2 L647.2 1105.9 L649.7 1103.8 L652.4 1101.9 L655.3 1100.3 L658.3 1099.0 L661.4 1098.0 L664.6 1097.2 L667.9 1096.8 L671.2 1096.6 L674.5 1096.8 L677.8 1097.2 L681.0 1098.0 L684.1 1099.0 L687.2 1100.3 L690.0 1101.9 L692.7 1103.8 L695.3 1105.9 L697.6 1108.2 L699.6 1110.8 L701.5 1113.5 L703.0 1116.3 L704.3 1119.3 L705.3 1122.4 L706.0 1125.6 L706.4 1128.8 L706.5 1132.1 L706.3 1135.3 L705.7 1138.5Z"/><path d="M695.5 1128.4 L695.9 1131.3 L695.8 1134.1 L695.4 1137.0 L694.5 1139.8 L693.3 1142.6 L691.7 1145.1 L689.7 1147.5 L687.4 1149.6 L684.9 1151.4 L682.1 1153.0 L679.2 1154.2 L676.1 1155.0 L672.9 1155.5 L669.7 1155.6 L666.6 1155.3 L663.5 1154.7 L660.5 1153.7 L657.8 1152.3 L655.3 1150.6 L653.0 1148.7 L651.1 1146.4 L649.5 1144.0 L648.3 1141.4 L647.5 1138.6 L647.1 1135.7 L647.2 1132.9 L647.6 1130.0 L648.5 1127.2 L649.7 1124.4 L651.3 1121.9 L653.3 1119.5 L655.6 1117.4 L658.1 1115.6 L660.9 1114.0 L663.8 1112.8 L666.9 1112.0 L670.1 1111.5 L673.3 1111.4 L676.4 1111.7 L679.5 1112.3 L682.5 1113.3 L685.2 1114.7 L687.7 1116.4 L690.0 1118.3 L691.9 1120.6 L693.5 1123.0 L694.7 1125.6 L695.5 1128.4Z M683.1 1136.8 L684.0 1134.0 L684.6 1131.2 L684.8 1128.4 L684.7 1125.8 L684.3 1123.4 L683.6 1121.3 L682.6 1119.6 L681.3 1118.3 L679.8 1117.5 L678.1 1117.2 L676.3 1117.4 L674.5 1118.0 L672.6 1119.1 L670.8 1120.7 L669.0 1122.6 L667.4 1124.9 L666.0 1127.5 L664.9 1130.2 L664.0 1133.0 L663.4 1135.8 L663.2 1138.6 L663.3 1141.2 L663.7 1143.6 L664.4 1145.7 L665.4 1147.4 L666.7 1148.7 L668.2 1149.5 L669.9 1149.8 L671.7 1149.6 L673.5 1149.0 L675.4 1147.9 L677.2 1146.3 L679.0 1144.4 L680.6 1142.1 L682.0 1139.5 L683.1 1136.8Z" fill-rule="evenodd"/><path d="M689.5 1112.5 L699.5 1112.5 L694.5 1154.5 L682.5 1154.5 Z"/></g><g font-family="Liberation Serif" font-weight="bold" stroke-linejoin="miter" stroke-miterlimit="2.2" fill="#6a6a70" stroke="#6a6a70" stroke-width="25"><text x="251.62" y="1161.90" font-size="103.66" textLength="90.27" lengthAdjust="spacingAndGlyphs">D</text><text x="474.07" y="1161.90" font-size="103.66" textLength="49.25" lengthAdjust="spacingAndGlyphs">I</text><text x="529.61" y="1161.90" font-size="103.66" textLength="86.35" lengthAdjust="spacingAndGlyphs">N</text><text x="727.62" y="1161.90" font-size="103.66" textLength="90.38" lengthAdjust="spacingAndGlyphs">D</text><text x="825.90" y="1161.90" font-size="103.66" textLength="71.08" lengthAdjust="spacingAndGlyphs">L</text><text x="1169.41" y="1161.13" font-size="91.25" textLength="24.38" lengthAdjust="spacingAndGlyphs">.</text></g><g font-family="Liberation Serif" font-weight="bold" stroke-linejoin="miter" stroke-miterlimit="2.2" fill="#6a6a70" stroke="#6a6a70" stroke-width="27"><text x="350.63" y="1160.90" font-size="100.61" textLength="117.45" lengthAdjust="spacingAndGlyphs">M</text><text x="898.97" y="1159.92" font-size="98.36" textLength="76.17" lengthAdjust="spacingAndGlyphs">S</text><text x="985.61" y="1160.90" font-size="100.61" textLength="83.45" lengthAdjust="spacingAndGlyphs">U</text><text x="1079.69" y="1160.90" font-size="100.61" textLength="80.68" lengthAdjust="spacingAndGlyphs">B</text><text x="1199.87" y="1159.92" font-size="98.36" textLength="81.32" lengthAdjust="spacingAndGlyphs">C</text><text x="1285.38" y="1160.98" font-size="102.24" textLength="88.99" lengthAdjust="spacingAndGlyphs">O</text><text x="1383.64" y="1160.90" font-size="100.61" textLength="116.72" lengthAdjust="spacingAndGlyphs">M</text></g></g></g>
<g font-family="Liberation Serif" font-weight="bold" stroke-linejoin="miter" stroke-miterlimit="2.2" fill="#fff" stroke="#fff" stroke-width="17"><path d="M173.5 1090.0 L230.5 1090.0 L230.5 1109.9 L244.5 1147.4 L244.5 1165.9 L160.4 1165.9 L160.4 1146.2 L173.5 1109.9Z M189.0 1132.8 L203.4 1132.5 L194.2 1115.0Z M184.4 1147.7 L209.0 1147.7 L209.0 1139.6 L184.4 1139.6Z" fill-rule="evenodd"/><path d="M714.2 1140.3 L714.9 1136.3 L715.2 1132.3 L715.1 1128.2 L714.6 1124.2 L713.7 1120.2 L712.5 1116.3 L710.9 1112.6 L708.9 1109.0 L706.7 1105.7 L704.1 1102.5 L701.2 1099.6 L698.0 1097.0 L694.7 1094.7 L691.1 1092.7 L687.3 1091.0 L683.4 1089.7 L679.4 1088.8 L675.3 1088.2 L671.2 1088.0 L667.1 1088.2 L663.0 1088.8 L659.0 1089.7 L655.1 1091.0 L651.4 1092.7 L647.8 1094.6 L644.4 1097.0 L641.2 1099.6 L638.4 1102.5 L635.8 1105.6 L633.5 1109.0 L631.5 1112.6 L629.9 1116.3 L628.7 1120.2 L627.8 1124.1 L627.3 1128.2 L627.2 1132.2 L627.5 1136.3 L628.2 1140.3 L629.2 1144.2 L630.6 1148.0 L632.4 1151.7 L634.5 1155.1 L636.9 1158.4 L639.6 1161.5 L642.6 1164.2 L645.9 1166.7 L649.4 1168.9 L653.0 1170.7 L656.9 1172.2 L660.8 1173.4 L664.8 1174.1 L668.9 1174.5 L673.1 1174.6 L677.2 1174.2 L681.2 1173.5 L685.2 1172.4 L689.0 1170.9 L692.7 1169.1 L696.2 1166.9 L699.5 1164.5 L693.9 1157.9 L691.3 1159.9 L688.5 1161.6 L685.5 1163.0 L682.4 1164.2 L679.2 1165.1 L676.0 1165.7 L672.7 1166.0 L669.4 1166.0 L666.1 1165.6 L662.9 1165.0 L659.7 1164.1 L656.6 1162.9 L653.7 1161.4 L650.9 1159.7 L648.3 1157.7 L645.9 1155.5 L643.7 1153.0 L641.7 1150.4 L640.0 1147.6 L638.6 1144.7 L637.5 1141.6 L636.7 1138.5 L636.1 1135.3 L635.9 1132.0 L636.0 1128.8 L636.4 1125.6 L637.1 1122.4 L638.1 1119.3 L639.4 1116.3 L640.9 1113.4 L642.8 1110.7 L644.9 1108.2 L647.2 1105.9 L649.7 1103.8 L652.4 1101.9 L655.3 1100.3 L658.3 1099.0 L661.4 1098.0 L664.6 1097.2 L667.9 1096.8 L671.2 1096.6 L674.5 1096.8 L677.8 1097.2 L681.0 1098.0 L684.1 1099.0 L687.2 1100.3 L690.0 1101.9 L692.7 1103.8 L695.3 1105.9 L697.6 1108.2 L699.6 1110.8 L701.5 1113.5 L703.0 1116.3 L704.3 1119.3 L705.3 1122.4 L706.0 1125.6 L706.4 1128.8 L706.5 1132.1 L706.3 1135.3 L705.7 1138.5Z"/><path d="M695.5 1128.4 L695.9 1131.3 L695.8 1134.1 L695.4 1137.0 L694.5 1139.8 L693.3 1142.6 L691.7 1145.1 L689.7 1147.5 L687.4 1149.6 L684.9 1151.4 L682.1 1153.0 L679.2 1154.2 L676.1 1155.0 L672.9 1155.5 L669.7 1155.6 L666.6 1155.3 L663.5 1154.7 L660.5 1153.7 L657.8 1152.3 L655.3 1150.6 L653.0 1148.7 L651.1 1146.4 L649.5 1144.0 L648.3 1141.4 L647.5 1138.6 L647.1 1135.7 L647.2 1132.9 L647.6 1130.0 L648.5 1127.2 L649.7 1124.4 L651.3 1121.9 L653.3 1119.5 L655.6 1117.4 L658.1 1115.6 L660.9 1114.0 L663.8 1112.8 L666.9 1112.0 L670.1 1111.5 L673.3 1111.4 L676.4 1111.7 L679.5 1112.3 L682.5 1113.3 L685.2 1114.7 L687.7 1116.4 L690.0 1118.3 L691.9 1120.6 L693.5 1123.0 L694.7 1125.6 L695.5 1128.4Z M683.1 1136.8 L684.0 1134.0 L684.6 1131.2 L684.8 1128.4 L684.7 1125.8 L684.3 1123.4 L683.6 1121.3 L682.6 1119.6 L681.3 1118.3 L679.8 1117.5 L678.1 1117.2 L676.3 1117.4 L674.5 1118.0 L672.6 1119.1 L670.8 1120.7 L669.0 1122.6 L667.4 1124.9 L666.0 1127.5 L664.9 1130.2 L664.0 1133.0 L663.4 1135.8 L663.2 1138.6 L663.3 1141.2 L663.7 1143.6 L664.4 1145.7 L665.4 1147.4 L666.7 1148.7 L668.2 1149.5 L669.9 1149.8 L671.7 1149.6 L673.5 1149.0 L675.4 1147.9 L677.2 1146.3 L679.0 1144.4 L680.6 1142.1 L682.0 1139.5 L683.1 1136.8Z" fill-rule="evenodd"/><path d="M689.5 1112.5 L699.5 1112.5 L694.5 1154.5 L682.5 1154.5 Z"/></g><g font-family="Liberation Serif" font-weight="bold" stroke-linejoin="miter" stroke-miterlimit="2.2" fill="#fff" stroke="#fff" stroke-width="25"><text x="251.62" y="1161.90" font-size="103.66" textLength="90.27" lengthAdjust="spacingAndGlyphs">D</text><text x="474.07" y="1161.90" font-size="103.66" textLength="49.25" lengthAdjust="spacingAndGlyphs">I</text><text x="529.61" y="1161.90" font-size="103.66" textLength="86.35" lengthAdjust="spacingAndGlyphs">N</text><text x="727.62" y="1161.90" font-size="103.66" textLength="90.38" lengthAdjust="spacingAndGlyphs">D</text><text x="825.90" y="1161.90" font-size="103.66" textLength="71.08" lengthAdjust="spacingAndGlyphs">L</text><text x="1169.41" y="1161.13" font-size="91.25" textLength="24.38" lengthAdjust="spacingAndGlyphs">.</text></g><g font-family="Liberation Serif" font-weight="bold" stroke-linejoin="miter" stroke-miterlimit="2.2" fill="#fff" stroke="#fff" stroke-width="27"><text x="350.63" y="1160.90" font-size="100.61" textLength="117.45" lengthAdjust="spacingAndGlyphs">M</text><text x="898.97" y="1159.92" font-size="98.36" textLength="76.17" lengthAdjust="spacingAndGlyphs">S</text><text x="985.61" y="1160.90" font-size="100.61" textLength="83.45" lengthAdjust="spacingAndGlyphs">U</text><text x="1079.69" y="1160.90" font-size="100.61" textLength="80.68" lengthAdjust="spacingAndGlyphs">B</text><text x="1199.87" y="1159.92" font-size="98.36" textLength="81.32" lengthAdjust="spacingAndGlyphs">C</text><text x="1285.38" y="1160.98" font-size="102.24" textLength="88.99" lengthAdjust="spacingAndGlyphs">O</text><text x="1383.64" y="1160.90" font-size="100.61" textLength="116.72" lengthAdjust="spacingAndGlyphs">M</text></g>
<g font-family="Liberation Serif" font-weight="bold" stroke-linejoin="round" fill="#a80c12" stroke="#a80c12" stroke-width="5"><path d="M173.5 1090.0 L230.5 1090.0 L230.5 1109.9 L244.5 1147.4 L244.5 1165.9 L160.4 1165.9 L160.4 1146.2 L173.5 1109.9Z M189.0 1132.8 L203.4 1132.5 L194.2 1115.0Z M184.4 1147.7 L209.0 1147.7 L209.0 1139.6 L184.4 1139.6Z" fill-rule="evenodd"/><path d="M714.2 1140.3 L714.9 1136.3 L715.2 1132.3 L715.1 1128.2 L714.6 1124.2 L713.7 1120.2 L712.5 1116.3 L710.9 1112.6 L708.9 1109.0 L706.7 1105.7 L704.1 1102.5 L701.2 1099.6 L698.0 1097.0 L694.7 1094.7 L691.1 1092.7 L687.3 1091.0 L683.4 1089.7 L679.4 1088.8 L675.3 1088.2 L671.2 1088.0 L667.1 1088.2 L663.0 1088.8 L659.0 1089.7 L655.1 1091.0 L651.4 1092.7 L647.8 1094.6 L644.4 1097.0 L641.2 1099.6 L638.4 1102.5 L635.8 1105.6 L633.5 1109.0 L631.5 1112.6 L629.9 1116.3 L628.7 1120.2 L627.8 1124.1 L627.3 1128.2 L627.2 1132.2 L627.5 1136.3 L628.2 1140.3 L629.2 1144.2 L630.6 1148.0 L632.4 1151.7 L634.5 1155.1 L636.9 1158.4 L639.6 1161.5 L642.6 1164.2 L645.9 1166.7 L649.4 1168.9 L653.0 1170.7 L656.9 1172.2 L660.8 1173.4 L664.8 1174.1 L668.9 1174.5 L673.1 1174.6 L677.2 1174.2 L681.2 1173.5 L685.2 1172.4 L689.0 1170.9 L692.7 1169.1 L696.2 1166.9 L699.5 1164.5 L693.9 1157.9 L691.3 1159.9 L688.5 1161.6 L685.5 1163.0 L682.4 1164.2 L679.2 1165.1 L676.0 1165.7 L672.7 1166.0 L669.4 1166.0 L666.1 1165.6 L662.9 1165.0 L659.7 1164.1 L656.6 1162.9 L653.7 1161.4 L650.9 1159.7 L648.3 1157.7 L645.9 1155.5 L643.7 1153.0 L641.7 1150.4 L640.0 1147.6 L638.6 1144.7 L637.5 1141.6 L636.7 1138.5 L636.1 1135.3 L635.9 1132.0 L636.0 1128.8 L636.4 1125.6 L637.1 1122.4 L638.1 1119.3 L639.4 1116.3 L640.9 1113.4 L642.8 1110.7 L644.9 1108.2 L647.2 1105.9 L649.7 1103.8 L652.4 1101.9 L655.3 1100.3 L658.3 1099.0 L661.4 1098.0 L664.6 1097.2 L667.9 1096.8 L671.2 1096.6 L674.5 1096.8 L677.8 1097.2 L681.0 1098.0 L684.1 1099.0 L687.2 1100.3 L690.0 1101.9 L692.7 1103.8 L695.3 1105.9 L697.6 1108.2 L699.6 1110.8 L701.5 1113.5 L703.0 1116.3 L704.3 1119.3 L705.3 1122.4 L706.0 1125.6 L706.4 1128.8 L706.5 1132.1 L706.3 1135.3 L705.7 1138.5Z"/><path d="M695.5 1128.4 L695.9 1131.3 L695.8 1134.1 L695.4 1137.0 L694.5 1139.8 L693.3 1142.6 L691.7 1145.1 L689.7 1147.5 L687.4 1149.6 L684.9 1151.4 L682.1 1153.0 L679.2 1154.2 L676.1 1155.0 L672.9 1155.5 L669.7 1155.6 L666.6 1155.3 L663.5 1154.7 L660.5 1153.7 L657.8 1152.3 L655.3 1150.6 L653.0 1148.7 L651.1 1146.4 L649.5 1144.0 L648.3 1141.4 L647.5 1138.6 L647.1 1135.7 L647.2 1132.9 L647.6 1130.0 L648.5 1127.2 L649.7 1124.4 L651.3 1121.9 L653.3 1119.5 L655.6 1117.4 L658.1 1115.6 L660.9 1114.0 L663.8 1112.8 L666.9 1112.0 L670.1 1111.5 L673.3 1111.4 L676.4 1111.7 L679.5 1112.3 L682.5 1113.3 L685.2 1114.7 L687.7 1116.4 L690.0 1118.3 L691.9 1120.6 L693.5 1123.0 L694.7 1125.6 L695.5 1128.4Z M683.1 1136.8 L684.0 1134.0 L684.6 1131.2 L684.8 1128.4 L684.7 1125.8 L684.3 1123.4 L683.6 1121.3 L682.6 1119.6 L681.3 1118.3 L679.8 1117.5 L678.1 1117.2 L676.3 1117.4 L674.5 1118.0 L672.6 1119.1 L670.8 1120.7 L669.0 1122.6 L667.4 1124.9 L666.0 1127.5 L664.9 1130.2 L664.0 1133.0 L663.4 1135.8 L663.2 1138.6 L663.3 1141.2 L663.7 1143.6 L664.4 1145.7 L665.4 1147.4 L666.7 1148.7 L668.2 1149.5 L669.9 1149.8 L671.7 1149.6 L673.5 1149.0 L675.4 1147.9 L677.2 1146.3 L679.0 1144.4 L680.6 1142.1 L682.0 1139.5 L683.1 1136.8Z" fill-rule="evenodd"/><path d="M689.5 1112.5 L699.5 1112.5 L694.5 1154.5 L682.5 1154.5 Z"/></g><g font-family="Liberation Serif" font-weight="bold" stroke-linejoin="round" fill="#a80c12" stroke="#a80c12" stroke-width="13"><text x="251.62" y="1161.90" font-size="103.66" textLength="90.27" lengthAdjust="spacingAndGlyphs">D</text><text x="474.07" y="1161.90" font-size="103.66" textLength="49.25" lengthAdjust="spacingAndGlyphs">I</text><text x="529.61" y="1161.90" font-size="103.66" textLength="86.35" lengthAdjust="spacingAndGlyphs">N</text><text x="727.62" y="1161.90" font-size="103.66" textLength="90.38" lengthAdjust="spacingAndGlyphs">D</text><text x="825.90" y="1161.90" font-size="103.66" textLength="71.08" lengthAdjust="spacingAndGlyphs">L</text><text x="1169.41" y="1161.13" font-size="91.25" textLength="24.38" lengthAdjust="spacingAndGlyphs">.</text></g><g font-family="Liberation Serif" font-weight="bold" stroke-linejoin="round" fill="#a80c12" stroke="#a80c12" stroke-width="15"><text x="350.63" y="1160.90" font-size="100.61" textLength="117.45" lengthAdjust="spacingAndGlyphs">M</text><text x="898.97" y="1159.92" font-size="98.36" textLength="76.17" lengthAdjust="spacingAndGlyphs">S</text><text x="985.61" y="1160.90" font-size="100.61" textLength="83.45" lengthAdjust="spacingAndGlyphs">U</text><text x="1079.69" y="1160.90" font-size="100.61" textLength="80.68" lengthAdjust="spacingAndGlyphs">B</text><text x="1199.87" y="1159.92" font-size="98.36" textLength="81.32" lengthAdjust="spacingAndGlyphs">C</text><text x="1285.38" y="1160.98" font-size="102.24" textLength="88.99" lengthAdjust="spacingAndGlyphs">O</text><text x="1383.64" y="1160.90" font-size="100.61" textLength="116.72" lengthAdjust="spacingAndGlyphs">M</text></g>
<g font-family="Liberation Serif" font-weight="bold" stroke-linejoin="round" fill="#cc161c" stroke="#cc161c" stroke-width="1.5"><path d="M173.5 1090.0 L230.5 1090.0 L230.5 1109.9 L244.5 1147.4 L244.5 1165.9 L160.4 1165.9 L160.4 1146.2 L173.5 1109.9Z M189.0 1132.8 L203.4 1132.5 L194.2 1115.0Z M184.4 1147.7 L209.0 1147.7 L209.0 1139.6 L184.4 1139.6Z" fill-rule="evenodd"/><path d="M714.2 1140.3 L714.9 1136.3 L715.2 1132.3 L715.1 1128.2 L714.6 1124.2 L713.7 1120.2 L712.5 1116.3 L710.9 1112.6 L708.9 1109.0 L706.7 1105.7 L704.1 1102.5 L701.2 1099.6 L698.0 1097.0 L694.7 1094.7 L691.1 1092.7 L687.3 1091.0 L683.4 1089.7 L679.4 1088.8 L675.3 1088.2 L671.2 1088.0 L667.1 1088.2 L663.0 1088.8 L659.0 1089.7 L655.1 1091.0 L651.4 1092.7 L647.8 1094.6 L644.4 1097.0 L641.2 1099.6 L638.4 1102.5 L635.8 1105.6 L633.5 1109.0 L631.5 1112.6 L629.9 1116.3 L628.7 1120.2 L627.8 1124.1 L627.3 1128.2 L627.2 1132.2 L627.5 1136.3 L628.2 1140.3 L629.2 1144.2 L630.6 1148.0 L632.4 1151.7 L634.5 1155.1 L636.9 1158.4 L639.6 1161.5 L642.6 1164.2 L645.9 1166.7 L649.4 1168.9 L653.0 1170.7 L656.9 1172.2 L660.8 1173.4 L664.8 1174.1 L668.9 1174.5 L673.1 1174.6 L677.2 1174.2 L681.2 1173.5 L685.2 1172.4 L689.0 1170.9 L692.7 1169.1 L696.2 1166.9 L699.5 1164.5 L693.9 1157.9 L691.3 1159.9 L688.5 1161.6 L685.5 1163.0 L682.4 1164.2 L679.2 1165.1 L676.0 1165.7 L672.7 1166.0 L669.4 1166.0 L666.1 1165.6 L662.9 1165.0 L659.7 1164.1 L656.6 1162.9 L653.7 1161.4 L650.9 1159.7 L648.3 1157.7 L645.9 1155.5 L643.7 1153.0 L641.7 1150.4 L640.0 1147.6 L638.6 1144.7 L637.5 1141.6 L636.7 1138.5 L636.1 1135.3 L635.9 1132.0 L636.0 1128.8 L636.4 1125.6 L637.1 1122.4 L638.1 1119.3 L639.4 1116.3 L640.9 1113.4 L642.8 1110.7 L644.9 1108.2 L647.2 1105.9 L649.7 1103.8 L652.4 1101.9 L655.3 1100.3 L658.3 1099.0 L661.4 1098.0 L664.6 1097.2 L667.9 1096.8 L671.2 1096.6 L674.5 1096.8 L677.8 1097.2 L681.0 1098.0 L684.1 1099.0 L687.2 1100.3 L690.0 1101.9 L692.7 1103.8 L695.3 1105.9 L697.6 1108.2 L699.6 1110.8 L701.5 1113.5 L703.0 1116.3 L704.3 1119.3 L705.3 1122.4 L706.0 1125.6 L706.4 1128.8 L706.5 1132.1 L706.3 1135.3 L705.7 1138.5Z"/><path d="M695.5 1128.4 L695.9 1131.3 L695.8 1134.1 L695.4 1137.0 L694.5 1139.8 L693.3 1142.6 L691.7 1145.1 L689.7 1147.5 L687.4 1149.6 L684.9 1151.4 L682.1 1153.0 L679.2 1154.2 L676.1 1155.0 L672.9 1155.5 L669.7 1155.6 L666.6 1155.3 L663.5 1154.7 L660.5 1153.7 L657.8 1152.3 L655.3 1150.6 L653.0 1148.7 L651.1 1146.4 L649.5 1144.0 L648.3 1141.4 L647.5 1138.6 L647.1 1135.7 L647.2 1132.9 L647.6 1130.0 L648.5 1127.2 L649.7 1124.4 L651.3 1121.9 L653.3 1119.5 L655.6 1117.4 L658.1 1115.6 L660.9 1114.0 L663.8 1112.8 L666.9 1112.0 L670.1 1111.5 L673.3 1111.4 L676.4 1111.7 L679.5 1112.3 L682.5 1113.3 L685.2 1114.7 L687.7 1116.4 L690.0 1118.3 L691.9 1120.6 L693.5 1123.0 L694.7 1125.6 L695.5 1128.4Z M683.1 1136.8 L684.0 1134.0 L684.6 1131.2 L684.8 1128.4 L684.7 1125.8 L684.3 1123.4 L683.6 1121.3 L682.6 1119.6 L681.3 1118.3 L679.8 1117.5 L678.1 1117.2 L676.3 1117.4 L674.5 1118.0 L672.6 1119.1 L670.8 1120.7 L669.0 1122.6 L667.4 1124.9 L666.0 1127.5 L664.9 1130.2 L664.0 1133.0 L663.4 1135.8 L663.2 1138.6 L663.3 1141.2 L663.7 1143.6 L664.4 1145.7 L665.4 1147.4 L666.7 1148.7 L668.2 1149.5 L669.9 1149.8 L671.7 1149.6 L673.5 1149.0 L675.4 1147.9 L677.2 1146.3 L679.0 1144.4 L680.6 1142.1 L682.0 1139.5 L683.1 1136.8Z" fill-rule="evenodd"/><path d="M689.5 1112.5 L699.5 1112.5 L694.5 1154.5 L682.5 1154.5 Z"/></g><g font-family="Liberation Serif" font-weight="bold" stroke-linejoin="round" fill="#cc161c" stroke="#cc161c" stroke-width="9.5"><text x="251.62" y="1161.90" font-size="103.66" textLength="90.27" lengthAdjust="spacingAndGlyphs">D</text><text x="474.07" y="1161.90" font-size="103.66" textLength="49.25" lengthAdjust="spacingAndGlyphs">I</text><text x="529.61" y="1161.90" font-size="103.66" textLength="86.35" lengthAdjust="spacingAndGlyphs">N</text><text x="727.62" y="1161.90" font-size="103.66" textLength="90.38" lengthAdjust="spacingAndGlyphs">D</text><text x="825.90" y="1161.90" font-size="103.66" textLength="71.08" lengthAdjust="spacingAndGlyphs">L</text><text x="1169.41" y="1161.13" font-size="91.25" textLength="24.38" lengthAdjust="spacingAndGlyphs">.</text></g><g font-family="Liberation Serif" font-weight="bold" stroke-linejoin="round" fill="#cc161c" stroke="#cc161c" stroke-width="11.5"><text x="350.63" y="1160.90" font-size="100.61" textLength="117.45" lengthAdjust="spacingAndGlyphs">M</text><text x="898.97" y="1159.92" font-size="98.36" textLength="76.17" lengthAdjust="spacingAndGlyphs">S</text><text x="985.61" y="1160.90" font-size="100.61" textLength="83.45" lengthAdjust="spacingAndGlyphs">U</text><text x="1079.69" y="1160.90" font-size="100.61" textLength="80.68" lengthAdjust="spacingAndGlyphs">B</text><text x="1199.87" y="1159.92" font-size="98.36" textLength="81.32" lengthAdjust="spacingAndGlyphs">C</text><text x="1285.38" y="1160.98" font-size="102.24" textLength="88.99" lengthAdjust="spacingAndGlyphs">O</text><text x="1383.64" y="1160.90" font-size="100.61" textLength="116.72" lengthAdjust="spacingAndGlyphs">M</text></g>
<g mask="url(#m2)"><g transform="translate(5,4.5)"><g font-family="Liberation Serif" font-weight="bold" stroke-linejoin="round" fill="#f4c0c0" stroke="#f4c0c0" stroke-width="3.1"><path d="M173.5 1090.0 L230.5 1090.0 L230.5 1109.9 L244.5 1147.4 L244.5 1165.9 L160.4 1165.9 L160.4 1146.2 L173.5 1109.9Z M189.0 1132.8 L203.4 1132.5 L194.2 1115.0Z M184.4 1147.7 L209.0 1147.7 L209.0 1139.6 L184.4 1139.6Z" fill-rule="evenodd"/><path d="M714.2 1140.3 L714.9 1136.3 L715.2 1132.3 L715.1 1128.2 L714.6 1124.2 L713.7 1120.2 L712.5 1116.3 L710.9 1112.6 L708.9 1109.0 L706.7 1105.7 L704.1 1102.5 L701.2 1099.6 L698.0 1097.0 L694.7 1094.7 L691.1 1092.7 L687.3 1091.0 L683.4 1089.7 L679.4 1088.8 L675.3 1088.2 L671.2 1088.0 L667.1 1088.2 L663.0 1088.8 L659.0 1089.7 L655.1 1091.0 L651.4 1092.7 L647.8 1094.6 L644.4 1097.0 L641.2 1099.6 L638.4 1102.5 L635.8 1105.6 L633.5 1109.0 L631.5 1112.6 L629.9 1116.3 L628.7 1120.2 L627.8 1124.1 L627.3 1128.2 L627.2 1132.2 L627.5 1136.3 L628.2 1140.3 L629.2 1144.2 L630.6 1148.0 L632.4 1151.7 L634.5 1155.1 L636.9 1158.4 L639.6 1161.5 L642.6 1164.2 L645.9 1166.7 L649.4 1168.9 L653.0 1170.7 L656.9 1172.2 L660.8 1173.4 L664.8 1174.1 L668.9 1174.5 L673.1 1174.6 L677.2 1174.2 L681.2 1173.5 L685.2 1172.4 L689.0 1170.9 L692.7 1169.1 L696.2 1166.9 L699.5 1164.5 L693.9 1157.9 L691.3 1159.9 L688.5 1161.6 L685.5 1163.0 L682.4 1164.2 L679.2 1165.1 L676.0 1165.7 L672.7 1166.0 L669.4 1166.0 L666.1 1165.6 L662.9 1165.0 L659.7 1164.1 L656.6 1162.9 L653.7 1161.4 L650.9 1159.7 L648.3 1157.7 L645.9 1155.5 L643.7 1153.0 L641.7 1150.4 L640.0 1147.6 L638.6 1144.7 L637.5 1141.6 L636.7 1138.5 L636.1 1135.3 L635.9 1132.0 L636.0 1128.8 L636.4 1125.6 L637.1 1122.4 L638.1 1119.3 L639.4 1116.3 L640.9 1113.4 L642.8 1110.7 L644.9 1108.2 L647.2 1105.9 L649.7 1103.8 L652.4 1101.9 L655.3 1100.3 L658.3 1099.0 L661.4 1098.0 L664.6 1097.2 L667.9 1096.8 L671.2 1096.6 L674.5 1096.8 L677.8 1097.2 L681.0 1098.0 L684.1 1099.0 L687.2 1100.3 L690.0 1101.9 L692.7 1103.8 L695.3 1105.9 L697.6 1108.2 L699.6 1110.8 L701.5 1113.5 L703.0 1116.3 L704.3 1119.3 L705.3 1122.4 L706.0 1125.6 L706.4 1128.8 L706.5 1132.1 L706.3 1135.3 L705.7 1138.5Z"/><path d="M695.5 1128.4 L695.9 1131.3 L695.8 1134.1 L695.4 1137.0 L694.5 1139.8 L693.3 1142.6 L691.7 1145.1 L689.7 1147.5 L687.4 1149.6 L684.9 1151.4 L682.1 1153.0 L679.2 1154.2 L676.1 1155.0 L672.9 1155.5 L669.7 1155.6 L666.6 1155.3 L663.5 1154.7 L660.5 1153.7 L657.8 1152.3 L655.3 1150.6 L653.0 1148.7 L651.1 1146.4 L649.5 1144.0 L648.3 1141.4 L647.5 1138.6 L647.1 1135.7 L647.2 1132.9 L647.6 1130.0 L648.5 1127.2 L649.7 1124.4 L651.3 1121.9 L653.3 1119.5 L655.6 1117.4 L658.1 1115.6 L660.9 1114.0 L663.8 1112.8 L666.9 1112.0 L670.1 1111.5 L673.3 1111.4 L676.4 1111.7 L679.5 1112.3 L682.5 1113.3 L685.2 1114.7 L687.7 1116.4 L690.0 1118.3 L691.9 1120.6 L693.5 1123.0 L694.7 1125.6 L695.5 1128.4Z M683.1 1136.8 L684.0 1134.0 L684.6 1131.2 L684.8 1128.4 L684.7 1125.8 L684.3 1123.4 L683.6 1121.3 L682.6 1119.6 L681.3 1118.3 L679.8 1117.5 L678.1 1117.2 L676.3 1117.4 L674.5 1118.0 L672.6 1119.1 L670.8 1120.7 L669.0 1122.6 L667.4 1124.9 L666.0 1127.5 L664.9 1130.2 L664.0 1133.0 L663.4 1135.8 L663.2 1138.6 L663.3 1141.2 L663.7 1143.6 L664.4 1145.7 L665.4 1147.4 L666.7 1148.7 L668.2 1149.5 L669.9 1149.8 L671.7 1149.6 L673.5 1149.0 L675.4 1147.9 L677.2 1146.3 L679.0 1144.4 L680.6 1142.1 L682.0 1139.5 L683.1 1136.8Z" fill-rule="evenodd"/><path d="M689.5 1112.5 L699.5 1112.5 L694.5 1154.5 L682.5 1154.5 Z"/></g><g font-family="Liberation Serif" font-weight="bold" stroke-linejoin="round" fill="#cc161c" stroke="#cc161c" stroke-width="0.01"><path d="M173.5 1090.0 L230.5 1090.0 L230.5 1109.9 L244.5 1147.4 L244.5 1165.9 L160.4 1165.9 L160.4 1146.2 L173.5 1109.9Z M189.0 1132.8 L203.4 1132.5 L194.2 1115.0Z M184.4 1147.7 L209.0 1147.7 L209.0 1139.6 L184.4 1139.6Z" fill-rule="evenodd"/><path d="M714.2 1140.3 L714.9 1136.3 L715.2 1132.3 L715.1 1128.2 L714.6 1124.2 L713.7 1120.2 L712.5 1116.3 L710.9 1112.6 L708.9 1109.0 L706.7 1105.7 L704.1 1102.5 L701.2 1099.6 L698.0 1097.0 L694.7 1094.7 L691.1 1092.7 L687.3 1091.0 L683.4 1089.7 L679.4 1088.8 L675.3 1088.2 L671.2 1088.0 L667.1 1088.2 L663.0 1088.8 L659.0 1089.7 L655.1 1091.0 L651.4 1092.7 L647.8 1094.6 L644.4 1097.0 L641.2 1099.6 L638.4 1102.5 L635.8 1105.6 L633.5 1109.0 L631.5 1112.6 L629.9 1116.3 L628.7 1120.2 L627.8 1124.1 L627.3 1128.2 L627.2 1132.2 L627.5 1136.3 L628.2 1140.3 L629.2 1144.2 L630.6 1148.0 L632.4 1151.7 L634.5 1155.1 L636.9 1158.4 L639.6 1161.5 L642.6 1164.2 L645.9 1166.7 L649.4 1168.9 L653.0 1170.7 L656.9 1172.2 L660.8 1173.4 L664.8 1174.1 L668.9 1174.5 L673.1 1174.6 L677.2 1174.2 L681.2 1173.5 L685.2 1172.4 L689.0 1170.9 L692.7 1169.1 L696.2 1166.9 L699.5 1164.5 L693.9 1157.9 L691.3 1159.9 L688.5 1161.6 L685.5 1163.0 L682.4 1164.2 L679.2 1165.1 L676.0 1165.7 L672.7 1166.0 L669.4 1166.0 L666.1 1165.6 L662.9 1165.0 L659.7 1164.1 L656.6 1162.9 L653.7 1161.4 L650.9 1159.7 L648.3 1157.7 L645.9 1155.5 L643.7 1153.0 L641.7 1150.4 L640.0 1147.6 L638.6 1144.7 L637.5 1141.6 L636.7 1138.5 L636.1 1135.3 L635.9 1132.0 L636.0 1128.8 L636.4 1125.6 L637.1 1122.4 L638.1 1119.3 L639.4 1116.3 L640.9 1113.4 L642.8 1110.7 L644.9 1108.2 L647.2 1105.9 L649.7 1103.8 L652.4 1101.9 L655.3 1100.3 L658.3 1099.0 L661.4 1098.0 L664.6 1097.2 L667.9 1096.8 L671.2 1096.6 L674.5 1096.8 L677.8 1097.2 L681.0 1098.0 L684.1 1099.0 L687.2 1100.3 L690.0 1101.9 L692.7 1103.8 L695.3 1105.9 L697.6 1108.2 L699.6 1110.8 L701.5 1113.5 L703.0 1116.3 L704.3 1119.3 L705.3 1122.4 L706.0 1125.6 L706.4 1128.8 L706.5 1132.1 L706.3 1135.3 L705.7 1138.5Z"/><path d="M695.5 1128.4 L695.9 1131.3 L695.8 1134.1 L695.4 1137.0 L694.5 1139.8 L693.3 1142.6 L691.7 1145.1 L689.7 1147.5 L687.4 1149.6 L684.9 1151.4 L682.1 1153.0 L679.2 1154.2 L676.1 1155.0 L672.9 1155.5 L669.7 1155.6 L666.6 1155.3 L663.5 1154.7 L660.5 1153.7 L657.8 1152.3 L655.3 1150.6 L653.0 1148.7 L651.1 1146.4 L649.5 1144.0 L648.3 1141.4 L647.5 1138.6 L647.1 1135.7 L647.2 1132.9 L647.6 1130.0 L648.5 1127.2 L649.7 1124.4 L651.3 1121.9 L653.3 1119.5 L655.6 1117.4 L658.1 1115.6 L660.9 1114.0 L663.8 1112.8 L666.9 1112.0 L670.1 1111.5 L673.3 1111.4 L676.4 1111.7 L679.5 1112.3 L682.5 1113.3 L685.2 1114.7 L687.7 1116.4 L690.0 1118.3 L691.9 1120.6 L693.5 1123.0 L694.7 1125.6 L695.5 1128.4Z M683.1 1136.8 L684.0 1134.0 L684.6 1131.2 L684.8 1128.4 L684.7 1125.8 L684.3 1123.4 L683.6 1121.3 L682.6 1119.6 L681.3 1118.3 L679.8 1117.5 L678.1 1117.2 L676.3 1117.4 L674.5 1118.0 L672.6 1119.1 L670.8 1120.7 L669.0 1122.6 L667.4 1124.9 L666.0 1127.5 L664.9 1130.2 L664.0 1133.0 L663.4 1135.8 L663.2 1138.6 L663.3 1141.2 L663.7 1143.6 L664.4 1145.7 L665.4 1147.4 L666.7 1148.7 L668.2 1149.5 L669.9 1149.8 L671.7 1149.6 L673.5 1149.0 L675.4 1147.9 L677.2 1146.3 L679.0 1144.4 L680.6 1142.1 L682.0 1139.5 L683.1 1136.8Z" fill-rule="evenodd"/><path d="M689.5 1112.5 L699.5 1112.5 L694.5 1154.5 L682.5 1154.5 Z"/></g><g font-family="Liberation Serif" font-weight="bold" stroke-linejoin="round" fill="#f4c0c0" stroke="#f4c0c0" stroke-width="11.1"><text x="251.62" y="1161.90" font-size="103.66" textLength="90.27" lengthAdjust="spacingAndGlyphs">D</text><text x="474.07" y="1161.90" font-size="103.66" textLength="49.25" lengthAdjust="spacingAndGlyphs">I</text><text x="529.61" y="1161.90" font-size="103.66" textLength="86.35" lengthAdjust="spacingAndGlyphs">N</text><text x="727.62" y="1161.90" font-size="103.66" textLength="90.38" lengthAdjust="spacingAndGlyphs">D</text><text x="825.90" y="1161.90" font-size="103.66" textLength="71.08" lengthAdjust="spacingAndGlyphs">L</text><text x="1169.41" y="1161.13" font-size="91.25" textLength="24.38" lengthAdjust="spacingAndGlyphs">.</text></g><g font-family="Liberation Serif" font-weight="bold" stroke-linejoin="round" fill="#cc161c" stroke="#cc161c" stroke-width="7.9"><text x="251.62" y="1161.90" font-size="103.66" textLength="90.27" lengthAdjust="spacingAndGlyphs">D</text><text x="474.07" y="1161.90" font-size="103.66" textLength="49.25" lengthAdjust="spacingAndGlyphs">I</text><text x="529.61" y="1161.90" font-size="103.66" textLength="86.35" lengthAdjust="spacingAndGlyphs">N</text><text x="727.62" y="1161.90" font-size="103.66" textLength="90.38" lengthAdjust="spacingAndGlyphs">D</text><text x="825.90" y="1161.90" font-size="103.66" textLength="71.08" lengthAdjust="spacingAndGlyphs">L</text><text x="1169.41" y="1161.13" font-size="91.25" textLength="24.38" lengthAdjust="spacingAndGlyphs">.</text></g><g font-family="Liberation Serif" font-weight="bold" stroke-linejoin="round" fill="#f4c0c0" stroke="#f4c0c0" stroke-width="13.1"><text x="350.63" y="1160.90" font-size="100.61" textLength="117.45" lengthAdjust="spacingAndGlyphs">M</text><text x="898.97" y="1159.92" font-size="98.36" textLength="76.17" lengthAdjust="spacingAndGlyphs">S</text><text x="985.61" y="1160.90" font-size="100.61" textLength="83.45" lengthAdjust="spacingAndGlyphs">U</text><text x="1079.69" y="1160.90" font-size="100.61" textLength="80.68" lengthAdjust="spacingAndGlyphs">B</text><text x="1199.87" y="1159.92" font-size="98.36" textLength="81.32" lengthAdjust="spacingAndGlyphs">C</text><text x="1285.38" y="1160.98" font-size="102.24" textLength="88.99" lengthAdjust="spacingAndGlyphs">O</text><text x="1383.64" y="1160.90" font-size="100.61" textLength="116.72" lengthAdjust="spacingAndGlyphs">M</text></g><g font-family="Liberation Serif" font-weight="bold" stroke-linejoin="round" fill="#cc161c" stroke="#cc161c" stroke-width="9.9"><text x="350.63" y="1160.90" font-size="100.61" textLength="117.45" lengthAdjust="spacingAndGlyphs">M</text><text x="898.97" y="1159.92" font-size="98.36" textLength="76.17" lengthAdjust="spacingAndGlyphs">S</text><text x="985.61" y="1160.90" font-size="100.61" textLength="83.45" lengthAdjust="spacingAndGlyphs">U</text><text x="1079.69" y="1160.90" font-size="100.61" textLength="80.68" lengthAdjust="spacingAndGlyphs">B</text><text x="1199.87" y="1159.92" font-size="98.36" textLength="81.32" lengthAdjust="spacingAndGlyphs">C</text><text x="1285.38" y="1160.98" font-size="102.24" textLength="88.99" lengthAdjust="spacingAndGlyphs">O</text><text x="1383.64" y="1160.90" font-size="100.61" textLength="116.72" lengthAdjust="spacingAndGlyphs">M</text></g></g></g>
</g>
</svg>
</body></html>
